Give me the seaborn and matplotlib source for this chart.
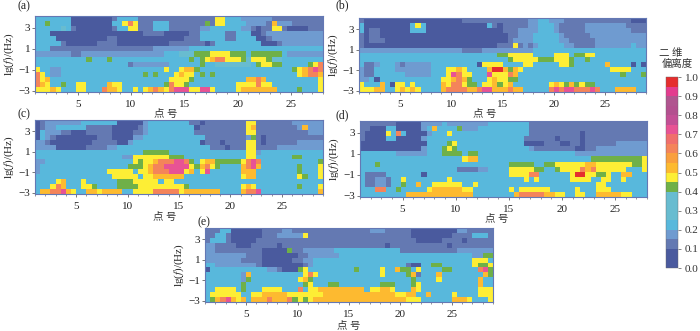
import numpy as np
import matplotlib
matplotlib.use("Agg")
import matplotlib.pyplot as plt
from matplotlib.colors import ListedColormap, Normalize
from matplotlib.cm import ScalarMappable
import seaborn as sns

sns.set_style("white")
plt.rcParams['font.family'] = ['Liberation Serif', 'Noto Sans CJK SC', 'DejaVu Sans']
plt.rcParams['mathtext.fontset'] = 'stix'
plt.rcParams['axes.unicode_minus'] = True

# digit code -> polarization-degree value
LEVELS = {'0': .05, '1': .12, '2': .17, '3': .22, '4': .3, '5': .42, '6': .47,
          '7': .53, '8': .62, '9': .72, 'R': .97}

panel_a = """
3333333 0000000 0133331 1111111 1111111 6633322 2222111 1111111
3353333 0000000 0336861 1133311 1111151 6633332 2221722 2111111
3333343 1000000 0133661 1133311 1111223 3333322 1011661 0000111
3330000 0000000 0000000 1111000 0011333 3311333 0012222 2222222
3333000 0000000 1100000 0000000 0111333 3311333 3001222 2222222
3333310 0000011 1100000 0000011 1111101 3333333 3300012 2222222
3331111 1111111 1111111 1122222 2233333 3333333 3333333 3333333
2222222 1122222 2222222 2222333 4445556 6665553 5555553 2222222
3333333 3335333 5333333 3333333 3353567 8866654 6665443 3333333
3333333 3333333 3333122 2222233 3333533 4444444 3566553 3333568
6332233 3333333 3333333 3333633 6775333 3333333 3333333 3567898
8632233 3333333 3333333 5353336 7663535 3333333 3333333 3367887
8673333 3333333 3333333 3333366 6653333 3333337 7873333 3333336
8763353 3663333 7663333 3333586 6533333 3333666 6866333 3333336
6667633 3663338 7763363 6787689 9966996 3333677 7777733 3353336
"""

panel_b = """
1000000 0000000 0000001 1111111 1111122 3322211 1111111 1111000
3000000 0003630 0000000 0000310 1111122 3332111 1122222 2221111
3011000 0003330 0000000 0000000 1112222 3332111 1122222 2222111
1011000 0000000 0000000 0000000 0112223 3333211 1112222 2222222
1011100 0000000 0000000 0000000 0122223 3333221 1111222 2222222
1000000 0000000 0000000 0000001 1161212 3333322 1111222 2222322
2222222 2222222 2222221 1112222 2222223 3333333 3333333 3333333
3333333 3333333 3333333 3333335 5666663 3336663 5566333 3333333
3333333 3333333 3333333 3333333 3566666 5556665 3353333 3333333
3112333 2122222 3333333 3306666 3333663 3333665 3333337 3333030
2113333 2222222 3336676 33337RR 7576333 3333333 3333333 6666333
2113333 3322222 3336986 6333966 6873333 3333333 3333333 3353335
2230333 3333333 3366787 5333676 6553333 3333333 3333333 3333333
6333730 6636333 3376886 5536675 6733333 3367657 5655333 3333333
6667733 6767633 3378888 7789977 7877333 3389899 8889833 3777733
"""

panel_c = """
0122222 2233333 3300000 2333333 3311011 1111116 6111111 1222222
0122333 3331111 1000001 2333333 3330111 1111116 7111111 1127222
0322211 0001111 1000011 2333333 3331111 1111116 6111111 1111222
0321000 0000011 1000022 3333333 3333311 1111112 5101111 1111111
2210000 0000111 1100233 3333333 3333011 1011116 6101111 1122222
2222000 0001111 2233333 3333333 3333331 1101116 6111122 2222222
3333333 3333333 3333333 5555533 3333333 3333336 6233333 3333333
3333333 3333333 3332266 6666655 5333333 3333336 6333333 3553333
2233333 3333333 3333365 6678889 9853677 5555568 9833333 3333335
2333333 3333333 3333555 6788999 9965786 5333378 9733333 3353336
2333333 3333333 6666636 6788899 9673693 3333377 7333333 3353336
3333333 3333333 3666663 6677777 7333333 3333367 7333333 3365336
3333673 3363333 3355566 6663663 3333333 3333333 3333333 3333333
3336873 3366533 3355556 6666666 6533333 3333367 6333333 3353336
3778897 6337767 7773366 6688888 6777777 7333378 8933333 3333337
"""

panel_d = """
1111111 0000022 2232222 2222333 3333311 1111111 1111111 1111111
1100033 0000023 7333352 2233333 3333311 1111111 1111111 1111111
1000063 8300002 3336333 3333333 3333311 1111111 1011111 1111111
1000033 0000023 3333333 3333333 3333111 1110111 1011111 1111111
0000000 0000003 3335633 3333333 3333000 0111001 1011111 1222222
0000000 0000023 3356533 3333333 3333321 1111111 0011222 2222222
3333333 2222223 3355553 5533333 3333333 3333333 2222222 2222222
3333333 3333333 3333336 7733333 3333333 3333333 3335555 5555556
3335333 3333333 3333333 3333333 3555553 3556666 6677666 6666556
3333333 3333333 3333311 1122333 3666665 5335666 6878666 6663336
3111133 3333303 3333333 3333333 3666688 3333336 RR66556 3377333
3112213 3633333 3336333 3333333 3333636 3333336 6663366 3363333
3112213 3533733 6666663 3633333 3333333 3333333 3333663 3333333
3338833 5333336 7777776 6333333 3636666 6633333 6333666 3333333
3333333 3377777 7777777 7333333 3378888 8776633 6633777 7766333
"""

panel_e = """
1113300 0000111 1221111 1111111 1111222 1111100 0000000 2211111
1133100 0000111 2222261 1111111 1111111 1111100 0000001 1113331
1333100 0001111 1111111 1111111 1111111 1111110 0000111 1011111
2211110 0011111 0111111 1111111 1111111 0111111 1111101 1111111
2211111 1111000 0051122 2222333 3333333 3331111 1111111 2222222
2222222 2111000 0000112 2222233 3333333 3333333 3333333 3332255
2222222 1111000 0001122 3333333 3333333 3333333 3333333 3336663
3322222 2221000 0000012 3333333 3333333 3333100 3355333 3336556
0333333 3333322 1000563 3333333 3533336 3375536 3333553 3333895
3333333 2733333 3333368 6333333 3333336 3333571 3337333 3333375
3333333 2533333 3333675 3333333 3333333 3333353 3336333 3333733
3333333 5333333 3333356 3335533 3333335 5533356 3333333 3333733
3366663 5333666 6333836 6777777 7773667 7633376 3333333 3333666
3666666 3366777 7766666 6677777 7777777 7766773 3733336 3333666
3578976 7377787 7785656 7777777 7777777 7777666 3333337 7763336
"""

panel_names = ["(a)", "(b)", "(c)", "(d)", "(e)"]
panel_data = [panel_a, panel_b, panel_c, panel_d, panel_e]
point_ranges = [(1, 28), (1, 29), (1, 29), (1, 28), (1, 29)]
x_ticks = [5, 10, 15, 20, 25]
y_ticks = [3, 1, -1, -3]
y_range = (-3.1, 4.1)
x_label = "点 号"
y_label = r"lg($f$)/(Hz)"
cbar_title = ["二 维", "偏离度"]
cbar_ticks = [0, .1, .2, .3, .4, .5, .6, .7, .8, .9, 1.0]

# 20 colour classes, 0.05 wide
cbar_colors = ["#4a5a9e", "#4a5a9e", "#6479b2", "#6f9bd0", "#58b8dc", "#68bcd0", "#68bcd0", "#68bcd0",
               "#6fb048", "#fdee35", "#fdba30", "#f99f3e", "#f4845a", "#f06f6c", "#e85394", "#c34f95",
               "#b3508f", "#b0558f", "#e33c8e", "#e52e2e"]
cmap = ListedColormap(cbar_colors)

W, H = 700, 331
boxes = [(35, 323, 16, 92), (359, 646, 18, 92), (35, 323, 120, 194), (360, 647, 121, 197), (205, 493, 228, 302)]
name_xy = [(17, 6), (335, 5), (17, 114), (335, 115), (197, 222)]
label_xy = [(166, 114), (485, 114), (165, 217), (497, 219), (349, 326)]


def parse(text):
    rows = [r.replace(" ", "") for r in text.strip().split("\n")]
    return np.array([[LEVELS[c] for c in r.ljust(56, r[-1])[:56]] for r in rows])


fig = plt.figure(figsize=(7.0, 3.31), dpi=100)
edge = "#6478b4"
for name, text, (x0, x1), (l, r, t, b), nxy, lxy in zip(panel_names, panel_data, point_ranges, boxes, name_xy, label_xy):
    ax = fig.add_axes([l / W, 1 - b / H, (r - l) / W, (b - t) / H])
    grid = parse(text)
    sns.heatmap(grid, ax=ax, cmap=cmap, vmin=0, vmax=1, cbar=False, xticklabels=False, yticklabels=False)
    nr, nc = grid.shape
    xpos = lambda v: (np.asarray(v, float) - x0) / (x1 - x0) * nc
    ypos = lambda v: (y_range[1] - np.asarray(v, float)) / (y_range[1] - y_range[0]) * nr
    ax.set_xticks(xpos(x_ticks))
    ax.set_xticklabels(x_ticks, fontsize=8, color="#222222")
    ax.set_xticks(xpos(np.arange(x0, x1 + 1)), minor=True)
    ax.set_yticks(ypos(y_ticks))
    ax.set_yticklabels(["3", "1", "−1", "−3"], fontsize=8, rotation=0, color="#222222")
    ax.tick_params(axis="x", which="major", direction="out", length=2.5, width=.5, color="#444444", pad=3, bottom=True)
    ax.tick_params(axis="x", which="minor", direction="out", length=1.5, width=.4, color="#444444", bottom=True)
    ax.tick_params(axis="y", which="major", direction="out", length=2, width=.5, color="#444444", pad=1.5, left=True)
    for s in ax.spines.values():
        s.set_visible(True)
        s.set_color(edge)
        s.set_linewidth(.8)
    fig.text(lxy[0] / W, 1 - lxy[1] / H, x_label, fontsize=7.5, ha="center", va="center", color="#333333")
    fig.text((l - 26) / W, 1 - ((t + b) / 2) / H, y_label, fontsize=8, rotation=90, ha="center", va="center", color="#222222")
    fig.text(nxy[0] / W, 1 - nxy[1] / H, name, fontsize=8.5, ha="left", va="center", color="#222222")

cax = fig.add_axes([666 / W, 1 - 268 / H, 12 / W, 191 / H])
sm = ScalarMappable(norm=Normalize(0, 1), cmap=cmap)
cb = fig.colorbar(sm, cax=cax, ticks=cbar_ticks)
cb.ax.set_yticklabels([f"{v:.1f}" for v in cbar_ticks], fontsize=8, color="#333333")
cb.ax.tick_params(length=2, width=.5, color="#555555", pad=3, right=True)
cb.outline.set_linewidth(0.3)
cb.outline.set_edgecolor("#666666")
fig.text(671 / W, 1 - 53 / H, cbar_title[0], fontsize=7.5, ha="center", va="center", color="#333333")
fig.text(677 / W, 1 - 64 / H, cbar_title[1], fontsize=7.5, ha="center", va="center", color="#333333")

fig.savefig("out.png", dpi=100)
